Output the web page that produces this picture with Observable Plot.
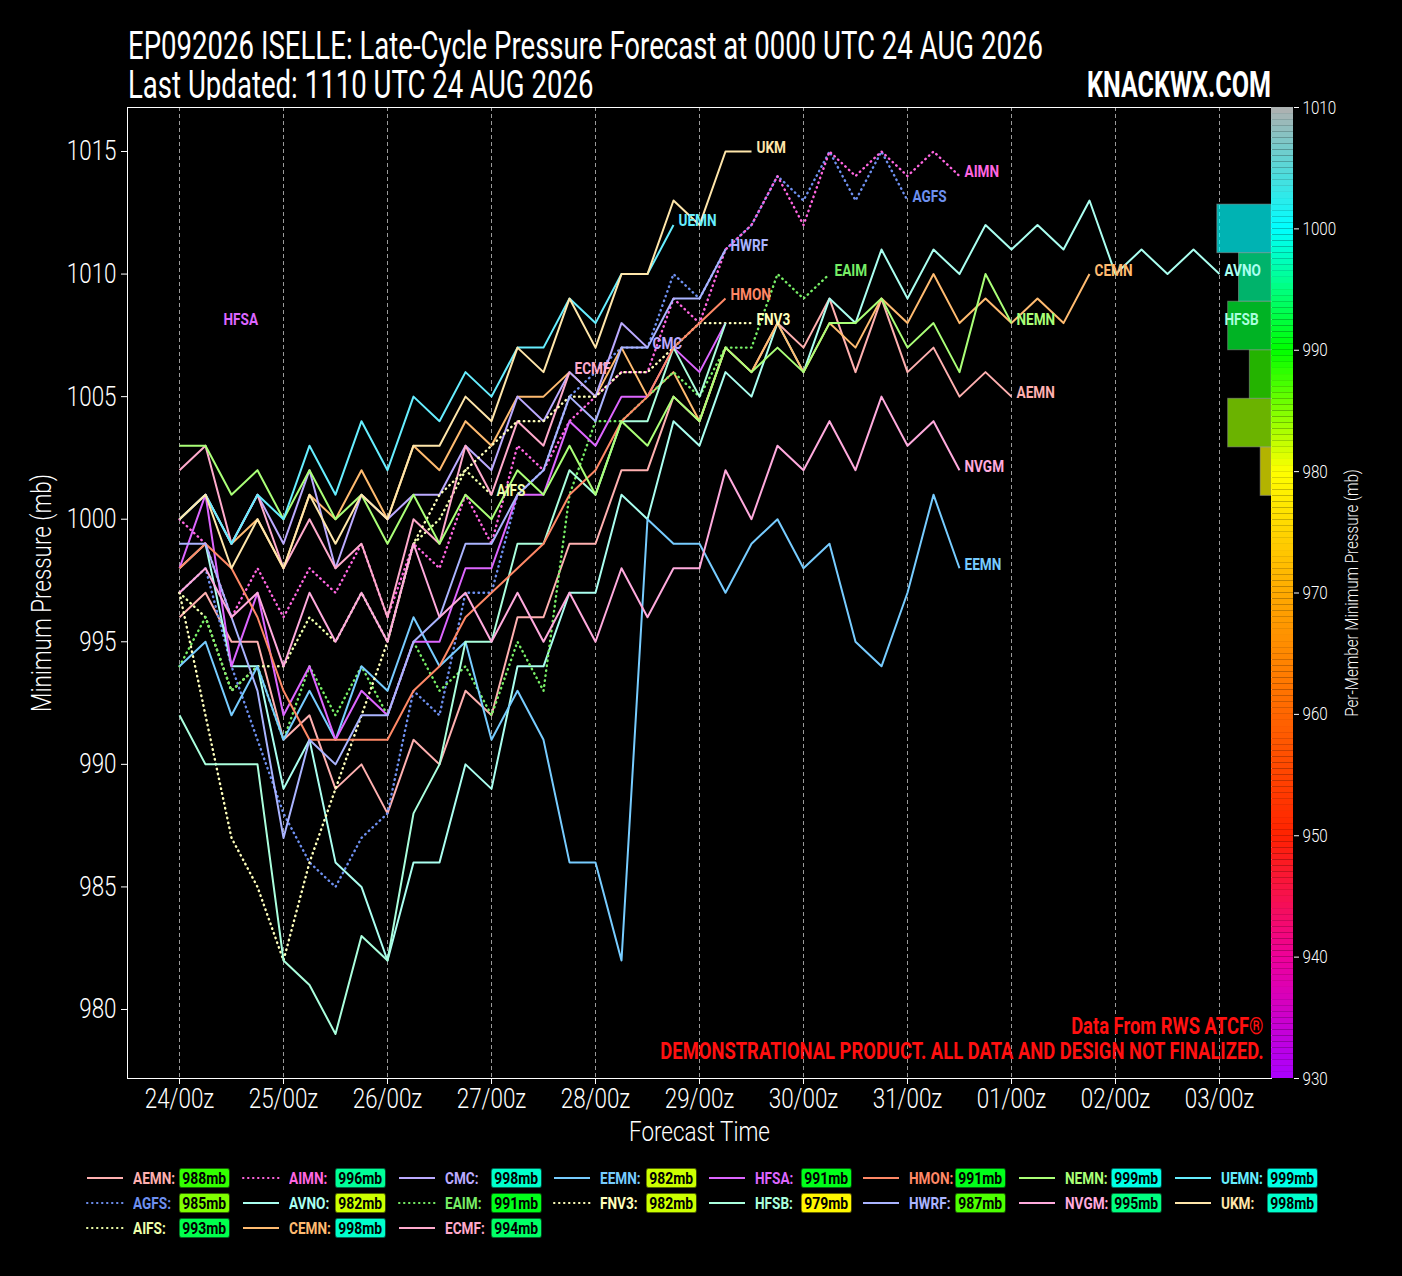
<!DOCTYPE html>
<html>
<head>
<meta charset="utf-8">
<script src="https://cdn.jsdelivr.net/npm/d3@7"></script>
<script src="https://cdn.jsdelivr.net/npm/@observablehq/plot@0.6"></script>
<style>
  html, body { margin: 0; padding: 0; background: #000; }
  body { width: 1402px; height: 1276px; position: relative; overflow: hidden; color: #fff; font-family: Roboto, "Liberation Sans", sans-serif; }
  #title { position: absolute; left: 128px; top: 27px; font-size: 38px; line-height: 39px; white-space: nowrap; transform-origin: 0 0; font-weight: 400; }
  #t1, #t2 { display: inline-block; }
  #brand { position: absolute; left: 1087px; top: 67px; font-size: 36px; line-height: 36px; font-weight: bold; white-space: nowrap; transform-origin: 0 50%; }
  #chart { position: absolute; left: 0; top: 100px; }
  #cbar { position: absolute; left: 1271px; top: 80px; }
  .item { position: absolute; height: 22px; width: 150px; }
  .item svg { position: absolute; left: 0; top: 0; }
  .lab { position: absolute; left: 47px; top: 0; font-weight: bold; font-size: 17px; line-height: 22px; white-space: nowrap;
         transform: scaleX(0.8); transform-origin: 0 50%; }
  .badge { position: absolute; left: 93px; top: 1px; height: 20px; padding: 0 3px; color: #000; font-weight: bold; font-size: 17px; line-height: 18px;
           border: 1px solid rgba(0,0,0,0.6); border-radius: 3px; box-sizing: border-box; white-space: nowrap;
           transform: scaleX(0.82); transform-origin: 0 50%; }
</style>
</head>
<body>
<div id="title"><span id="t1">EP092026 ISELLE: Late-Cycle Pressure Forecast at 0000 UTC 24 AUG 2026</span><br><span id="t2">Last Updated: 1110 UTC 24 AUG 2026</span></div>
<div id="brand">KNACKWX.COM</div>
<div id="chart"></div>
<div id="cbar"></div>
<div id="legend"></div>
<script>
// ---------- data (6-hourly, starting 24/00z) ----------
const STEP_H = 6;
const AEMN = [996,997,995,995,991,992,989,990,988,991,990,993,992,996,996,999,999,1002,1002,1005,1004,1007,1006,1008,1007,1009,1006,1009,1006,1007,1005,1006,1005];
const AGFS = [997,998,994,991,988,986,985,987,988,993,992,997,997,1001,1002,1005,1006,1007,1007,1010,1009,1011,1012,1014,1013,1015,1013,1015,1013];
const AIFS = [997,996,993,994,994,996,995,997,995,999,1000,1002,1001];
const AIMN = [1000,999,996,998,996,998,997,999,996,999,998,1001,999,1003,1002,1004,1005,1006,1006,1009,1008,1011,1012,1014,1012,1015,1014,1015,1014,1015,1014];
const AVNO = [998,999,994,994,989,991,986,985,982,986,986,990,989,994,994,997,997,1001,1000,1004,1003,1006,1005,1008,1006,1009,1008,1011,1009,1011,1010,1012,1011,1012,1011,1013,1010,1011,1010,1011,1010];
const CEMN = [1000,1001,999,1000,998,1001,1000,1002,1000,1003,1002,1004,1003,1005,1005,1006,1005,1007,1005,1006,1004,1007,1006,1008,1006,1008,1007,1009,1008,1010,1008,1009,1008,1009,1008,1010];
const CMC  = [1000,1001,999,1001,999,1002,998,1001,1000,1001,1001,1003,1002,1005,1004,1006,1005,1008,1007];
const EAIM = [994,996,993,994,991,994,992,994,992,995,993,994,992,995,993,1001,1004,1004,1005,1006,1005,1007,1007,1010,1009,1010];
const ECMF = [1002,1003,999,1001,998,1000,998,999,996,1000,999,1003,1001,1004,1003,1006];
const EEMN = [994,995,992,994,991,993,991,994,993,996,994,995,991,993,991,986,986,982,1000,999,999,997,999,1000,998,999,995,994,997,1001,998];
const FNV3 = [997,992,987,985,982,986,989,992,995,999,1001,1002,1003,1004,1004,1005,1005,1006,1006,1007,1008,1008,1008];
const HFSA = [998,1001,994,997,992,994,991,993,992,995,995,998,998,1001,1001,1004,1003,1005,1005,1007,1006,1008];
const HFSB = [992,990,990,990,982,981,979,983,982,988,990,995,995,999,999,1002,1001,1004,1004,1007,1005,1008];
const HMON = [998,999,998,996,993,991,991,991,991,993,994,996,997,998,999,1001,1002,1004,1005,1007,1008,1009];
const HWRF = [999,999,996,993,987,991,990,992,992,995,996,999,999,1001,1002,1005,1004,1007,1007,1009,1009,1011];
const NEMN = [1003,1003,1001,1002,1000,1002,1000,1001,999,1001,999,1001,1000,1002,1001,1003,1001,1004,1003,1005,1004,1007,1006,1007,1006,1008,1008,1009,1007,1008,1006,1010,1008];
const NVGM = [997,998,996,997,994,997,995,997,995,999,996,997,995,997,995,997,995,998,996,998,998,1002,1000,1003,1002,1004,1002,1005,1003,1004,1002];
const UEMN = [1000,1001,999,1001,1000,1003,1001,1004,1002,1005,1004,1006,1005,1007,1007,1009,1008,1010,1010,1012];
const UKM  = [1000,1001,998,1000,998,1001,999,1001,1000,1003,1003,1005,1004,1007,1006,1009,1007,1010,1010,1013,1012,1015,1015];

const modelNames  = ["AEMN","AGFS","AIFS","AIMN","AVNO","CEMN","CMC","EAIM","ECMF","EEMN","FNV3","HFSA","HFSB","HMON","HWRF","NEMN","NVGM","UEMN","UKM"];
const modelSeries = [AEMN,AGFS,AIFS,AIMN,AVNO,CEMN,CMC,EAIM,ECMF,EEMN,FNV3,HFSA,HFSB,HMON,HWRF,NEMN,NVGM,UEMN,UKM];
const modelColors = ["#ffb0b0","#6e90f0","#eeffaa","#ff66e0","#aafff0","#ffbb70","#bbaaff","#77ee66","#ffaacc","#77ccff","#ffffbb","#dd66ff","#aaffdd","#ff8866","#aab4ff","#aaff77","#ffaadd","#66eeff","#ffe6aa"];
const modelDotted = [false,true,true,true,false,false,false,true,false,false,true,false,false,false,false,false,false,false,false];
const minPressure = [988,985,993,996,982,998,998,991,994,982,982,991,979,991,987,999,995,999,998];
const labelOverrideModels = ["HFSA","HFSB"];
const labelOverrideHours  = [9, 240];

const tickHours  = [0,24,48,72,96,120,144,168,192,216,240];
const tickLabels = ["24/00z","25/00z","26/00z","27/00z","28/00z","29/00z","30/00z","31/00z","01/00z","02/00z","03/00z"];
const yTicks     = [980,985,990,995,1000,1005,1010,1015];
const cbTicks    = [930,940,950,960,970,980,990,1000,1010];
const cbStops    = [930,940,950,960,970,980,990,1000,1010];
const cbColors   = ["#aa00ff","#ee0099","#ff2200","#ff6600","#ffaa00","#ffff00","#00ff00","#00ffff","#b0b0b0"];

// ---------- scales / helpers ----------
const FONT = 'Roboto, "Liberation Sans", sans-serif';
const SQUEEZE = 0.8;
const X_DOMAIN = [-12, 252];
const Y_DOMAIN = [977.185, 1016.795];
const CB_DOMAIN = [930, 1010];
const HOURS_PER_COUNT = 2.5;
const cmap = d3.scaleLinear().domain(cbStops).range(cbColors).interpolate(d3.interpolateRgb).clamp(true);
const cbToPlot = v => Y_DOMAIN[0] + (v - CB_DOMAIN[0]) * (Y_DOMAIN[1] - Y_DOMAIN[0]) / (CB_DOMAIN[1] - CB_DOMAIN[0]);

// condense text horizontally (the original uses a condensed typeface)
function condense(svg, k) {
  const isNum = v => v != null && /^-?[\d.]+$/.test(v);
  svg.querySelectorAll("text").forEach(t => {
    const x = t.getAttribute("x"), y = t.getAttribute("y");
    let tx = 0, ty = 0;
    if (isNum(x)) { tx = +x; t.removeAttribute("x"); }
    if (isNum(y)) { ty = +y; t.removeAttribute("y"); }
    const tr = t.getAttribute("transform") || "";
    t.setAttribute("transform", `${tr} translate(${tx},${ty}) scale(${k},1)`);
  });
}

const bins = d3.bin().domain(CB_DOMAIN).thresholds(d3.range(930, 1011, 4))(minPressure).filter(b => b.length > 0);

const lineMarks = modelNames.map((m, k) => Plot.line(
  modelSeries[k].map((p, i) => ({t: i * STEP_H, p})),
  {x: "t", y: "p", stroke: modelColors[k],
   strokeDasharray: modelDotted[k] ? "0.5,4.5" : undefined,
   strokeLinecap: modelDotted[k] ? "round" : "butt",
   strokeWidth: modelDotted[k] ? 2.4 : 2}
));

const endLabels = modelNames.map((m, k) => {
  const s = modelSeries[k];
  const j = labelOverrideModels.indexOf(m);
  return {model: m, t: j >= 0 ? labelOverrideHours[j] : (s.length - 1) * STEP_H, p: s[s.length - 1], color: modelColors[k]};
});

const chart = Plot.plot({
  width: 1402, height: 1050,
  marginTop: 7, marginBottom: 72, marginLeft: 127, marginRight: 131,
  style: {background: "#000", color: "#fff", fontFamily: FONT},
  x: {domain: X_DOMAIN},
  y: {domain: Y_DOMAIN},
  color: {type: "identity"},
  marks: [
    Plot.ruleX(tickHours, {stroke: "#9a9a9a", strokeWidth: 1, strokeDasharray: "4,3"}),
    Plot.rect(bins, {x1: b => X_DOMAIN[1] - b.length * HOURS_PER_COUNT, x2: X_DOMAIN[1],
                     y1: b => cbToPlot(b.x0), y2: b => cbToPlot(b.x1),
                     fill: b => cmap((b.x0 + b.x1) / 2), fillOpacity: 0.7,
                     stroke: "#999", strokeOpacity: 0.5, strokeWidth: 1}),
    ...lineMarks,
    Plot.text(endLabels, {x: "t", y: "p", text: "model", fill: "color", dx: 5, dy: -4, textAnchor: "start",
                          fontWeight: "bold", fontSize: 17}),
    Plot.text(["Data From RWS ATCF®"], {text: d => d, frameAnchor: "bottom-right", dx: -8, dy: -45, textAnchor: "end",
                          fill: "#ff1010", fontSize: 23, fontWeight: "bold"}),
    Plot.text(["DEMONSTRATIONAL PRODUCT. ALL DATA AND DESIGN NOT FINALIZED."], {text: d => d, frameAnchor: "bottom-right", dx: -8, dy: -20,
                          textAnchor: "end", fill: "#ff1010", fontSize: 23, fontWeight: "bold"}),
    Plot.frame({stroke: "#fff", strokeWidth: 1}),
    Plot.axisX({ticks: tickHours, tickFormat: (d, i) => tickLabels[i], fontSize: 28, fontWeight: 300, tickSize: 6, tickPadding: 4,
                label: "Forecast Time", labelAnchor: "center", labelArrow: "none", labelOffset: 62}),
    Plot.axisY({ticks: yTicks, tickFormat: d => String(d), fontSize: 28, fontWeight: 300, tickSize: 6, tickPadding: 5,
                label: "Minimum Pressure (mb)", labelAnchor: "center", labelArrow: "none", labelOffset: 96})
  ]
});
condense(chart, SQUEEZE);
document.getElementById("chart").append(chart);

// ---------- colour bar ----------
const cbSteps = d3.range(CB_DOMAIN[0], CB_DOMAIN[1], 0.5);
const cbar = Plot.plot({
  width: 131, height: 1070,
  marginTop: 27, marginBottom: 72, marginLeft: 0, marginRight: 109,
  style: {background: "transparent", color: "#fff", fontFamily: FONT},
  x: {domain: [0, 1], axis: null},
  y: {domain: CB_DOMAIN},
  color: {type: "identity"},
  marks: [
    Plot.rect(cbSteps, {x1: 0, x2: 1, y1: d => d, y2: d => d + 0.5, fill: d => cmap(d + 0.25)}),
    Plot.axisY({anchor: "right", ticks: cbTicks, tickFormat: d => String(d), fontSize: 19, fontWeight: 300, tickSize: 5, tickPadding: 4,
                label: "Per-Member Minimum Pressure (mb)", labelAnchor: "center", labelArrow: "none", labelOffset: 64})
  ]
});
condense(cbar, SQUEEZE);
document.getElementById("cbar").append(cbar);

// ---------- title sizing (fit the reference widths) ----------
const t1w = document.getElementById("t1").getBoundingClientRect().width;
document.getElementById("title").style.transform = `scaleX(${915 / t1w})`;
const brand = document.getElementById("brand");
brand.style.transform = `scaleX(${184 / brand.getBoundingClientRect().width})`;

// ---------- legend ----------
const legendColX = [86, 242, 398, 553, 708, 862, 1018, 1174];
const legendRowY = [1178, 1203, 1228];
const legend = document.getElementById("legend");
modelNames.forEach((m, k) => {
  const col = k < 9 ? Math.floor(k / 3) : 3 + Math.floor((k - 9) / 2);
  const row = k < 9 ? k % 3 : (k - 9) % 2;
  const item = document.createElement("div");
  item.className = "item";
  item.style.left = legendColX[col] + "px";
  item.style.top = (legendRowY[row] - 11) + "px";
  const dash = modelDotted[k] ? ' stroke-dasharray="0.5,4.5" stroke-linecap="round"' : "";
  item.innerHTML = `<svg width="40" height="22"><line x1="1" x2="37" y1="11" y2="11" stroke="${modelColors[k]}" stroke-width="2"${dash}/></svg>` +
    `<span class="lab" style="color:${modelColors[k]}">${m}:</span>` +
    `<span class="badge" style="background:${cmap(minPressure[k])}">${minPressure[k]}mb</span>`;
  legend.append(item);
});
</script>
</body>
</html>
